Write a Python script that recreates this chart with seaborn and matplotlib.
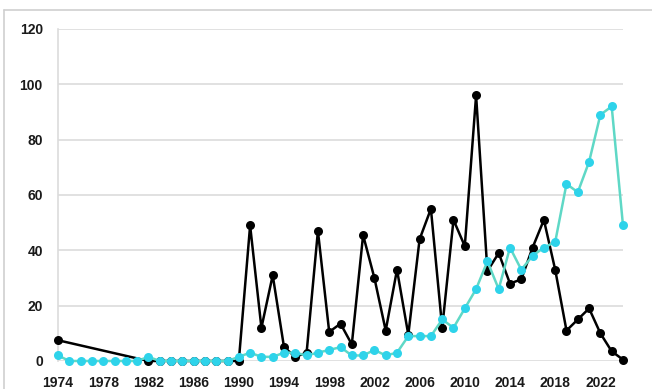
import matplotlib
matplotlib.use("Agg")
import matplotlib.pyplot as plt
import pandas as pd
import seaborn as sns
from matplotlib.lines import Line2D

# series values
cyan_years = list(range(1974, 2025))
cyan_values = [2, 0, 0, 0, 0, 0, 0, 0, 1.5, 0, 0, 0, 0, 0, 0, 0,
               1.5, 3, 1.5, 1.5, 3, 3, 2, 3, 4, 5, 2, 2, 4, 2, 3,
               9, 9, 9, 15, 12, 19, 26, 36, 26, 41, 33, 38, 41, 43,
               64, 61, 72, 89, 92, 49]

black_years = [1974] + list(range(1982, 2025))
black_values = [7.5, 0, 0, 0, 0, 0, 0, 0, 0, 0,
                49, 12, 31, 5, 1.5, 3, 47, 10.5, 13.5, 6, 45.5, 30, 11, 33,
                9.5, 44, 55, 12, 51, 41.5, 96, 32.5, 39, 28, 29.5, 41, 51,
                33, 11, 15, 19, 10, 3.5, 0.5]

x_ticks = list(range(1974, 2025, 4))
y_ticks = [0, 20, 40, 60, 80, 100, 120]

sns.set_theme(style="white")
plt.rcParams["font.family"] = ["Liberation Sans", "DejaVu Sans"]

black = pd.DataFrame({"year": black_years, "value": black_values})
cyan = pd.DataFrame({"year": cyan_years, "value": cyan_values})

fig = plt.figure(figsize=(6.52, 3.89), dpi=100)
ax = fig.add_axes([0.089, 0.072, 0.8665, 0.8535])

sns.lineplot(data=black, x="year", y="value", ax=ax, color="black",
             linewidth=1.8, marker="o", markersize=6.5,
             markerfacecolor="black", markeredgecolor="black",
             markeredgewidth=0, clip_on=False, zorder=3)
sns.lineplot(data=cyan, x="year", y="value", ax=ax, color="#5fd8c6",
             linewidth=1.8, marker="o", markersize=6.5,
             markerfacecolor="#2ed3ea", markeredgecolor="#2ed3ea",
             markeredgewidth=0, clip_on=False, zorder=4)

ax.set_xlim(1974, 2024)
ax.set_ylim(0, 120)
ax.set_xticks(x_ticks)
ax.set_yticks(y_ticks)
ax.set_xlabel("")
ax.set_ylabel("")
ax.grid(axis="y", color="#dcdcdc", linewidth=1.2)
ax.set_axisbelow(True)
for side in ["top", "right", "bottom"]:
    ax.spines[side].set_visible(False)
ax.spines["left"].set_color("#dcdcdc")
ax.spines["left"].set_linewidth(1.2)
ax.tick_params(axis="both", length=0, labelsize=10, labelcolor="#1a1a1a")
ax.tick_params(axis="y", pad=11)
ax.tick_params(axis="x", pad=11)
for lbl in ax.get_xticklabels() + ax.get_yticklabels():
    lbl.set_fontweight("bold")

# light frame of the screenshot
fig.add_artist(Line2D([4 / 652, 1], [1 - 10 / 389, 1 - 10 / 389],
                      transform=fig.transFigure, color="#cfcfcf", linewidth=1.2))
fig.add_artist(Line2D([4 / 652, 4 / 652], [0, 1 - 10 / 389],
                      transform=fig.transFigure, color="#cfcfcf", linewidth=1.2))

fig.savefig("out.png", dpi=100)
